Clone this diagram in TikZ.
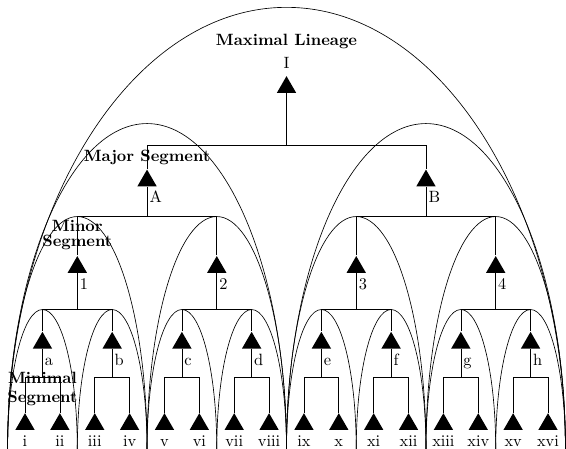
\documentclass[tikz,border=0pt]{standalone}
\usepackage{amsmath}
\usetikzlibrary{positioning}
\usetikzlibrary{shapes.geometric}

\begin{document}
\begin{tikzpicture}[T/.style={regular polygon, regular polygon sides=3, fill=black, inner sep=0pt, minimum size=0.48cm},
        L/.style={inner sep=0.5pt, text height=1.6ex, text depth=0.25ex},
        S/.style={font=\bfseries, inner sep=0pt, align=center}]
    \useasboundingbox (-0.538,0) rectangle (11.637,9.658);
    % segment arcs
    \foreach \x in {0,...,7} \draw ({1.5*\x-0.375},0) arc[start angle=180, end angle=0, x radius=0.75, y radius=3];
    \foreach \x in {0,...,3} \draw ({3*\x-0.375},0) arc[start angle=180, end angle=0, x radius=1.5, y radius=5];
    \foreach \x in {0,1} \draw ({6*\x-0.375},0) arc[start angle=180, end angle=0, x radius=3, y radius=7];
    \draw (-0.375,0) arc[start angle=180, end angle=0, x radius=6, y radius=9.5];
    % lineages
    \foreach \n [count=\k from 0] in {i,ii,iii,iv,v,vi,vii,viii,ix,x,xi,xii,xiii,xiv,xv,xvi} {
        \node[T] (\n) at (0.75*\k, 0.53) {};
        \node[L, below=0.08cm of \n.south] (\n-l) {\n};
    }
    \foreach \n [count=\k from 0] in {a,b,c,d,e,f,g,h} {
        \node[T] (\n) at (0.375+1.5*\k, 2.28) {};
        \node[L, below right=0.08cm and 0.03cm of \n.south] (\n-l) {\n};
        \coordinate (\n-bot) at (0.375+1.5*\k, 1.55);
    }
    \foreach \n/\t [count=\k from 0] in {m1/1,m2/2,m3/3,m4/4} {
        \node[T] (\n) at (1.125+3*\k, 3.91) {};
        \node[L, below right=0.08cm and 0.03cm of \n.south] (\n-l) {\t};
        \coordinate (\n-bot) at (1.125+3*\k, 3);
    }
    \foreach \n [count=\k from 0] in {A,B} {
        \node[T] (\n) at (2.625+6*\k, 5.77) {};
        \node[L, below right=0.08cm and 0.03cm of \n.south] (\n-l) {\n};
        \coordinate (\n-bot) at (2.625+6*\k, 5);
    }
    \node[T] (I) at (5.625, 7.78) {};
    \node[L, above=0.08cm of I.north] (I-l) {I};
    \coordinate (I-bot) at (5.625, 6.53);
    % connectors
    \foreach \n/\p in {i/a,ii/a,iii/b,iv/b,v/c,vi/c,vii/d,viii/d,ix/e,x/e,xi/f,xii/f,xiii/g,xiv/g,xv/h,xvi/h,
            a/m1,b/m1,c/m2,d/m2,e/m3,f/m3,g/m4,h/m4,m1/A,m2/A,m3/B,m4/B,A/I,B/I}
        \draw (\n) |- (\p-bot);
    \foreach \n in {a,b,c,d,e,f,g,h,m1,m2,m3,m4,A,B,I}
        \draw (\n) -- (\n-bot);
    % level names
    \node[S, anchor=base] (maxl) at (5.625, 8.67) {Maximal Lineage};
    \node[S, anchor=base] (majl) at (2.625, 6.19) {Major Segment};
    \node[S, anchor=base] (minl) at (1.125, 4.35) {Minor\\[-2.8pt]Segment};
    \node[S, anchor=base] (mnl) at (0.375, 0.99) {Minimal\\Segment};
\end{tikzpicture}
\end{document}
